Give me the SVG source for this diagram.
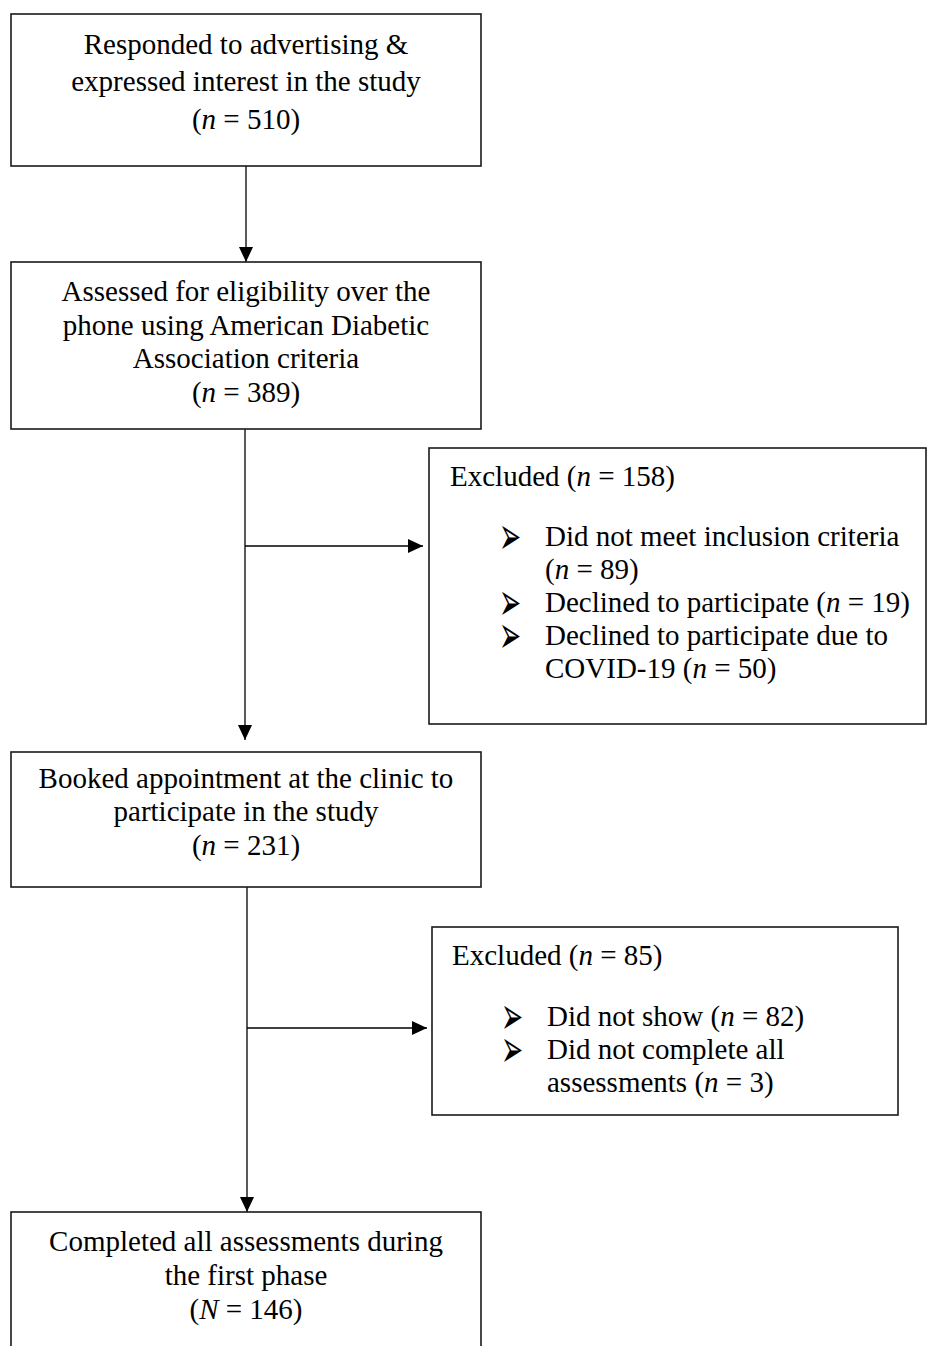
<svg xmlns="http://www.w3.org/2000/svg" width="927" height="1346" viewBox="0 0 927 1346">
  <style>
    .box { fill: #ffffff; stroke: #1a1a1a; stroke-width: 1.6; }
    .lbl { font-family: "Liberation Serif", "Times New Roman", serif; font-size: 29px; fill: #000000; }
    .mid { text-anchor: middle; }
    .it { font-style: italic; }
    .bul { font-family: "DejaVu Sans", sans-serif; font-size: 22px; fill: #000000; }
    .conn { stroke: #000000; stroke-width: 1.3; fill: none; }
  </style>
  <defs>
    <marker id="head" markerUnits="userSpaceOnUse" markerWidth="15" markerHeight="14" refX="15" refY="7" orient="auto">
      <path d="M0,0 L15,7 L0,14 Z" fill="#000000"/>
    </marker>
  </defs>

  <rect width="927" height="1346" fill="#ffffff"/>

  <!-- connectors -->
  <g id="connectors">
    <line class="conn" x1="246" y1="166" x2="246" y2="262" marker-end="url(#head)"/>
    <line class="conn" x1="245" y1="429" x2="245" y2="740" marker-end="url(#head)"/>
    <line class="conn" x1="245" y1="546" x2="423" y2="546" marker-end="url(#head)"/>
    <line class="conn" x1="247" y1="887" x2="247" y2="1212" marker-end="url(#head)"/>
    <line class="conn" x1="247" y1="1028" x2="427" y2="1028" marker-end="url(#head)"/>
  </g>

  <!-- responded -->
  <g id="responded">
    <rect class="box" x="11" y="14" width="470" height="152"/>
    <text class="lbl mid" x="246" y="54">Responded to advertising &amp;</text>
    <text class="lbl mid" x="246" y="91">expressed interest in the study</text>
    <text class="lbl mid" x="246" y="129">(<tspan class="it">n</tspan> = 510)</text>
  </g>

  <!-- assessed -->
  <g id="assessed">
    <rect class="box" x="11" y="262" width="470" height="167"/>
    <text class="lbl mid" x="246" y="301">Assessed for eligibility over the</text>
    <text class="lbl mid" x="246" y="335">phone using American Diabetic</text>
    <text class="lbl mid" x="246" y="368">Association criteria</text>
    <text class="lbl mid" x="246" y="402">(<tspan class="it">n</tspan> = 389)</text>
  </g>

  <!-- excluded after screening -->
  <g id="excluded-screening">
    <rect class="box" x="429" y="448" width="497" height="276"/>
    <text class="lbl" x="450" y="486">Excluded (<tspan class="it">n</tspan> = 158)</text>
    <text class="bul" transform="translate(499,554) scale(1.2,2.4)">➢</text>
    <text class="lbl" x="545" y="546">Did not meet inclusion criteria</text>
    <text class="lbl" x="545" y="579">(<tspan class="it">n</tspan> = 89)</text>
    <text class="bul" transform="translate(499,620) scale(1.2,2.4)">➢</text>
    <text class="lbl" x="545" y="612">Declined to participate (<tspan class="it">n</tspan> = 19)</text>
    <text class="bul" transform="translate(499,653) scale(1.2,2.4)">➢</text>
    <text class="lbl" x="545" y="645">Declined to participate due to</text>
    <text class="lbl" x="545" y="678">COVID-19 (<tspan class="it">n</tspan> = 50)</text>
  </g>

  <!-- booked -->
  <g id="booked">
    <rect class="box" x="11" y="752" width="470" height="135"/>
    <text class="lbl mid" x="246" y="788">Booked appointment at the clinic to</text>
    <text class="lbl mid" x="246" y="821">participate in the study</text>
    <text class="lbl mid" x="246" y="855">(<tspan class="it">n</tspan> = 231)</text>
  </g>

  <!-- excluded at clinic -->
  <g id="excluded-clinic">
    <rect class="box" x="432" y="927" width="466" height="188"/>
    <text class="lbl" x="452" y="965">Excluded (<tspan class="it">n</tspan> = 85)</text>
    <text class="bul" transform="translate(501,1034) scale(1.2,2.4)">➢</text>
    <text class="lbl" x="547" y="1026">Did not show (<tspan class="it">n</tspan> = 82)</text>
    <text class="bul" transform="translate(501,1067) scale(1.2,2.4)">➢</text>
    <text class="lbl" x="547" y="1059">Did not complete all</text>
    <text class="lbl" x="547" y="1092">assessments (<tspan class="it">n</tspan> = 3)</text>
  </g>

  <!-- completed -->
  <g id="completed">
    <rect class="box" x="11" y="1212" width="470" height="150"/>
    <text class="lbl mid" x="246" y="1251">Completed all assessments during</text>
    <text class="lbl mid" x="246" y="1285">the first phase</text>
    <text class="lbl mid" x="246" y="1319">(<tspan class="it">N</tspan> = 146)</text>
  </g>
</svg>
